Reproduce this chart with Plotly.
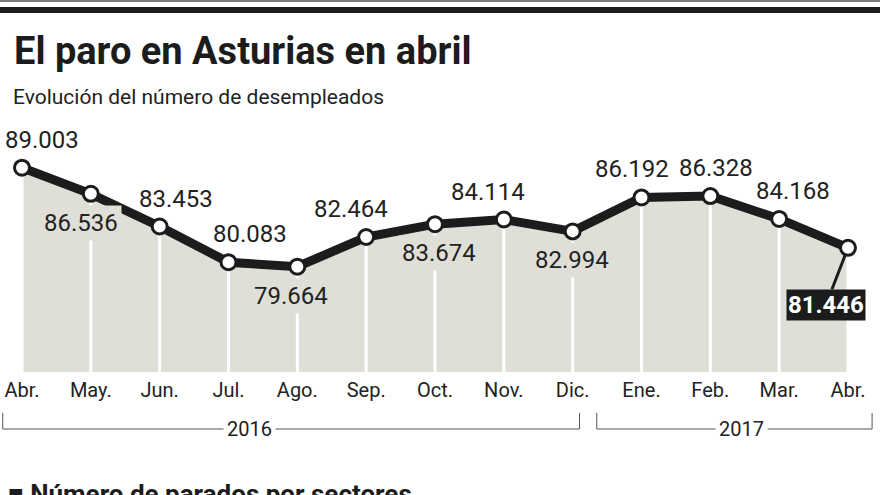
import plotly.graph_objects as go

# ---- data ----
months = ["Abr.", "May.", "Jun.", "Jul.", "Ago.", "Sep.", "Oct.", "Nov.", "Dic.",
          "Ene.", "Feb.", "Mar.", "Abr."]
parados = [89.003, 86.536, 83.453, 80.083, 79.664, 82.464, 83.674, 84.114, 82.994,
           86.192, 86.328, 84.168, 81.446]
value_labels = ["89.003", "86.536", "83.453", "80.083", "79.664", "82.464", "83.674",
                "84.114", "82.994", "86.192", "86.328", "84.168", "81.446"]
years = ["2016", "2017"]

# ---- styling ----
label_side = ["above", "below", "above", "above", "below", "above", "below",
              "above", "below", "above", "above", "above", "box"]
label_dx = [20, -10, 16, 21, -6, -15, 4, -16, -1, -10, 6, 14, 0]

W, H = 880, 495
ML, MR, MT, MB = 22, 32, 120, 123
PW, PH = W - ML - MR, H - MT - MB
Y0, Y1 = 69.73, 93.50
NX = len(months) - 1

FILL = "#dfdfd8"
INK = "#1c1c1c"
TXT = "#222222"
FONT = "Roboto, 'Open Sans', sans-serif"


def py(p):  # pixel row -> paper y
    return (H - MB - p) / PH


def pxx(p):  # pixel column -> paper x
    return (p - ML) / PW


def cx(i):  # category index -> paper x
    return i / NX


x = list(range(len(months)))

fig = go.Figure()

# grey area
fig.add_trace(go.Scatter(x=x, y=parados, mode="lines", line=dict(width=0, color=FILL),
                         fill="tozeroy", fillcolor=FILL, hoverinfo="skip", showlegend=False))

# white drop lines
vx, vy = [], []
for xi, v in zip(x, parados):
    vx += [xi, xi, None]
    vy += [v, Y0, None]
fig.add_trace(go.Scatter(x=vx, y=vy, mode="lines", line=dict(color="white", width=3),
                         hoverinfo="skip", showlegend=False))

# main line with markers
fig.add_trace(go.Scatter(x=x, y=parados, mode="lines+markers",
                         line=dict(color=INK, width=9),
                         marker=dict(size=15, color="white", line=dict(color=INK, width=3)),
                         cliponaxis=False, showlegend=False))

annotations = []
for xi, v, t, side, dx in zip(x, parados, value_labels, label_side, label_dx):
    if side == "box":
        annotations.append(dict(x=xi, y=v, xref="x", yref="y", text="<b>" + t + "</b>",
                                showarrow=True, ax=-22, ay=57, arrowhead=0, arrowwidth=3,
                                arrowcolor=INK, standoff=7, bgcolor=INK, borderpad=1,
                                font=dict(family=FONT, size=24, color="white")))
    else:
        annotations.append(dict(x=xi, y=v, xref="x", yref="y", text=t, showarrow=False,
                                xshift=dx, yshift=28 if side == "above" else -29,
                                bgcolor=FILL if side == "below" else None, borderpad=3,
                                font=dict(family=FONT, size=24, color=TXT)))

# titles
annotations.append(dict(x=pxx(12), y=py(51), xref="paper", yref="paper", xanchor="left",
                        yanchor="middle", showarrow=False, text="<b>El paro en Asturias en abril</b>",
                        font=dict(family=FONT, size=38, color=INK)))
annotations.append(dict(x=pxx(11), y=py(97), xref="paper", yref="paper", xanchor="left",
                        yanchor="middle", showarrow=False, text="Evolución del número de desempleados",
                        font=dict(family=FONT, size=21, color=TXT)))
annotations.append(dict(x=pxx(6), y=py(494), xref="paper", yref="paper", xanchor="left",
                        yanchor="middle", showarrow=False, text="<b>■ Número de parados por sectores</b>",
                        font=dict(family=FONT, size=26, color=INK)))

# year labels
annotations.append(dict(x=3.3, y=py(429), xref="x", yref="paper", showarrow=False, text=years[0],
                        xanchor="center", yanchor="middle",
                        bgcolor="white", borderpad=3, font=dict(family=FONT, size=20, color=TXT)))
annotations.append(dict(x=10.45, y=py(429), xref="x", yref="paper", showarrow=False, text=years[1],
                        xanchor="center", yanchor="middle",
                        bgcolor="white", borderpad=3, font=dict(family=FONT, size=20, color=TXT)))

shapes = []
# top rules
shapes.append(dict(type="rect", xref="paper", yref="paper", x0=pxx(0), x1=pxx(W), y0=py(0), y1=py(2),
                   fillcolor="#7a7a7a", line=dict(width=0), layer="above"))
shapes.append(dict(type="rect", xref="paper", yref="paper", x0=pxx(0), x1=pxx(W), y0=py(7), y1=py(13),
                   fillcolor=INK, line=dict(width=0), layer="above"))
# year brackets
for a, b in [(-0.28, 8.1), (8.35, 12.35)]:
    pa, pb = cx(a), cx(b)
    shapes.append(dict(type="path", xref="paper", yref="paper",
                       path=f"M {pa},{py(413)} L {pa},{py(429)} L {pb},{py(429)} L {pb},{py(413)}",
                       line=dict(color="#555555", width=1)))

fig.update_layout(
    width=W, height=H, margin=dict(l=ML, r=MR, t=MT, b=MB, autoexpand=False),
    paper_bgcolor="white", plot_bgcolor="white",
    xaxis=dict(range=[0, NX], tickvals=x, ticktext=months, showgrid=False, zeroline=False,
               showline=False, ticks="", ticklabelstandoff=4, automargin=False,
               tickfont=dict(family=FONT, size=20, color=TXT), fixedrange=True),
    yaxis=dict(range=[Y0, Y1], visible=False, fixedrange=True, automargin=False),
    annotations=annotations, shapes=shapes, showlegend=False,
)

fig.write_html("out.html")
